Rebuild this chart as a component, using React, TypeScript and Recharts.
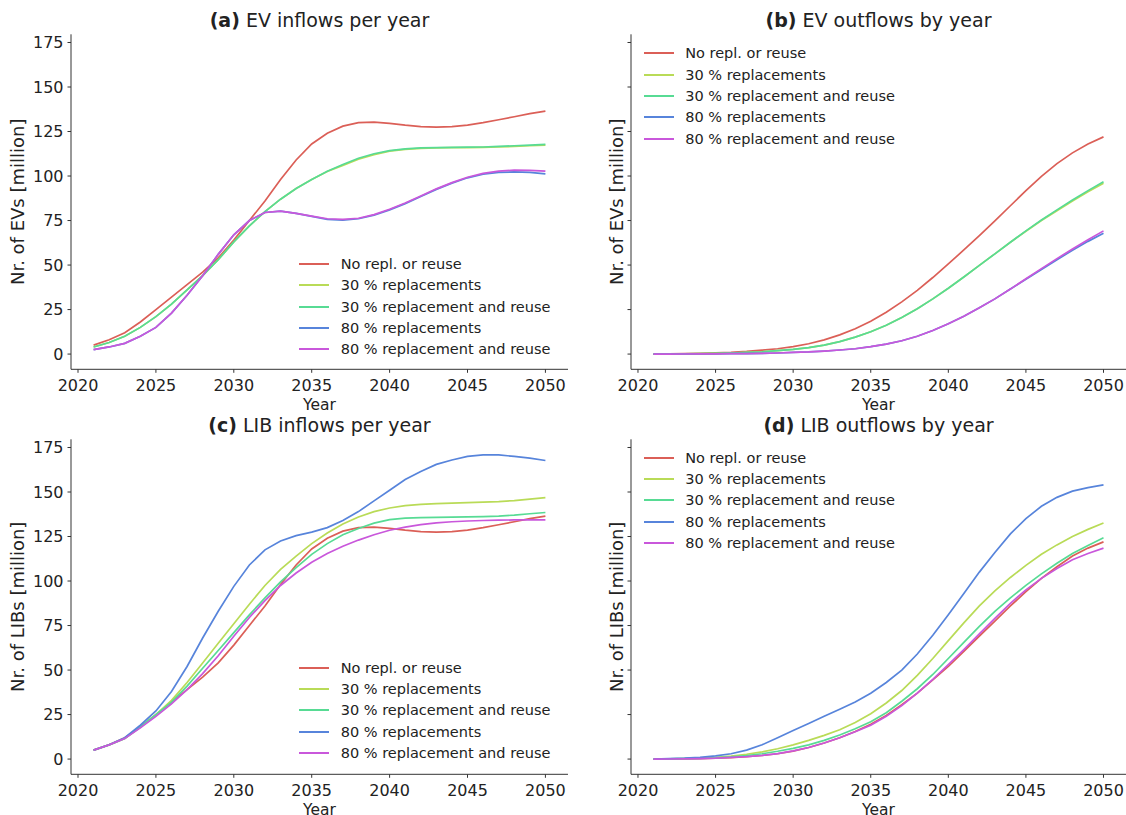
import { LineChart, Line, XAxis, YAxis, Legend, Label } from "recharts";

const years = [
  2021, 2022, 2023, 2024, 2025, 2026, 2027, 2028, 2029, 2030,
  2031, 2032, 2033, 2034, 2035, 2036, 2037, 2038, 2039, 2040,
  2041, 2042, 2043, 2044, 2045, 2046, 2047, 2048, 2049, 2050,
];

const seriesNames = [
  "No repl. or reuse",
  "30 % replacements",
  "30 % replacement and reuse",
  "80 % replacements",
  "80 % replacement and reuse",
];
const seriesColors = ["#db5f57", "#b9db57", "#57db94", "#5784db", "#c957db"];

const xTicks = [2020, 2025, 2030, 2035, 2040, 2045, 2050];
const yTicks = [0, 25, 50, 75, 100, 125, 150, 175];

// (a) EV inflows per year
const evInNo = [5, 8, 12, 18, 25, 32, 39, 46, 54, 64, 75, 86, 98, 109, 118, 124, 128, 130, 130.3, 129.6, 128.6, 127.8, 127.5, 127.8, 128.6, 130, 131.6, 133.3, 135, 136.5];
const evIn30 = [4, 6.5, 10, 15, 21, 28, 36, 44, 53, 63, 72, 80, 87, 93, 98, 102.5, 106, 109.5, 112, 114, 115, 115.5, 115.8, 116, 116, 116.1, 116.3, 116.6, 117, 117.3];
const evIn30r = [4, 6.5, 10, 15, 21, 28, 36, 44, 53, 63, 72, 80, 87, 93, 98, 102.7, 106.5, 110, 112.5, 114.3, 115.3, 115.8, 116, 116.1, 116.2, 116.3, 116.6, 117, 117.4, 117.8];
const evIn80 = [2.5, 4, 6, 10, 15, 23, 33, 44, 56, 67, 75, 79.5, 80.3, 79, 77.3, 75.7, 75.2, 76, 78, 81, 84.5, 88.5, 92.5, 96, 99, 101, 102, 102.3, 102, 101.2];
const evIn80r = [2.5, 4, 6, 10, 15, 23, 33, 44, 56, 67, 75, 79.5, 80.3, 79, 77.5, 76, 75.6, 76.3, 78.3, 81.3, 84.8, 88.8, 92.8, 96.3, 99.3, 101.5, 102.8, 103.3, 103.2, 102.7];

// (b) EV outflows by year
const evOutNo = [0, 0.1, 0.2, 0.4, 0.7, 1, 1.5, 2.2, 3, 4.2, 5.8, 8, 10.8, 14.2, 18.4, 23.5, 29.3, 35.8, 43, 50.6, 58.5, 66.5, 74.8, 83.3, 91.8, 99.8, 107, 113, 118, 122];
const evOut30 = [0, 0.05, 0.1, 0.2, 0.35, 0.6, 0.9, 1.3, 1.9, 2.6, 3.6, 5, 7, 9.5, 12.5, 16.2, 20.5, 25.5, 31, 37, 43.3, 49.8, 56.3, 62.8, 69, 75, 80.5, 86, 91.2, 96];
const evOut30r = [0, 0.05, 0.1, 0.2, 0.35, 0.6, 0.9, 1.3, 1.9, 2.6, 3.6, 5, 7, 9.5, 12.5, 16.2, 20.5, 25.5, 31, 37, 43.3, 49.8, 56.3, 62.8, 69.2, 75.3, 81, 86.5, 91.8, 96.8];
const evOut80 = [0, 0, 0.05, 0.1, 0.15, 0.2, 0.3, 0.4, 0.6, 0.9, 1.2, 1.7, 2.3, 3, 4.2, 5.6, 7.5, 10, 13.2, 17, 21.3, 26, 31, 36.5, 42, 47.5, 53, 58.3, 63.3, 67.8];
const evOut80r = [0, 0, 0.05, 0.1, 0.15, 0.2, 0.3, 0.4, 0.6, 0.9, 1.2, 1.7, 2.3, 3, 4.2, 5.6, 7.5, 10, 13.2, 17, 21.3, 26, 31, 36.5, 42.3, 48, 53.6, 59, 64.2, 69.2];

// (c) LIB inflows per year
const libInNo = [5, 8, 12, 18, 25, 32, 39, 46, 54, 64, 75, 86, 98, 109, 118, 124, 128, 130, 130.3, 129.6, 128.6, 127.8, 127.5, 127.8, 128.6, 130, 131.6, 133.3, 135, 136.5];
const libIn30 = [5, 8, 11.5, 18, 25, 33, 43, 54, 65, 76, 87, 97.5, 106.5, 114, 121, 127, 132, 136, 139, 141, 142.3, 143, 143.5, 143.7, 144, 144.3, 144.6, 145.2, 146, 146.8];
const libIn30r = [5, 8, 11.5, 18, 25, 32, 41, 51, 61, 71, 81, 90.5, 99.5, 107.5, 115, 121, 126, 129.5, 132.5, 134.5, 135.3, 135.6, 135.8, 135.9, 136, 136.2, 136.5, 137, 137.8, 138.5];
const libIn80 = [5, 8, 12, 19, 27, 38, 52, 68, 83, 97, 109, 117.5, 122.5, 125.5, 127.5, 130, 134, 139, 145, 151, 157, 161.5, 165.5, 168, 170, 170.8, 170.8, 170, 169, 167.7];
const libIn80r = [5, 8, 11.5, 17.5, 24, 31, 39, 48, 58, 69, 79.5, 89, 97.5, 104.5, 110.5, 115.5, 119.5, 123, 126, 128.5, 130.3, 131.7, 132.7, 133.3, 133.7, 134, 134.2, 134.3, 134.3, 134.3];

// (d) LIB outflows by year
const libOutNo = [0, 0.05, 0.15, 0.3, 0.5, 0.8, 1.3, 2, 3, 4.5, 6.5, 9, 12, 15.5, 19.5, 24.5, 30.5, 37, 44.5, 52, 60.5, 69, 77.5, 86, 94, 101.5, 108, 114, 118.5, 122];
const libOut30 = [0, 0.1, 0.3, 0.6, 1, 1.7, 2.7, 4, 5.8, 8, 10.5, 13.3, 16.5, 20.5, 25.5, 31.5, 38.5, 47, 56.5, 66.5, 76.5, 86, 94.5, 102, 108.8, 115, 120.3, 125, 129, 132.6];
const libOut30r = [0, 0.1, 0.2, 0.4, 0.7, 1.2, 2, 3, 4.4, 6, 8, 10.5, 13.5, 17, 21, 26, 32.5, 39.5, 47.5, 56.5, 65.5, 74.5, 83, 90.5, 97.6, 104, 110, 115.5, 120, 124.3];
const libOut80 = [0, 0.2, 0.5, 1, 1.8, 3, 5, 8, 12, 16, 20, 24, 28, 32, 37, 43, 50, 59, 69.5, 81, 93, 105, 116, 126.5, 135, 142, 147, 150.5, 152.5, 154];
const libOut80r = [0, 0.05, 0.15, 0.3, 0.5, 0.9, 1.4, 2.1, 3.1, 4.6, 6.5, 9, 12, 15.3, 19, 24, 30, 37, 44.8, 53, 61.5, 70.3, 79, 87.5, 95, 101.5, 107, 112, 115.5, 118.5];

const FONT = "'DejaVu Sans', 'Liberation Sans', sans-serif";
const INK = "#222";
const AXIS = "#333";

function buildRows(series: number[][]) {
  return years.map((year, i) => {
    const row: Record<string, number> = { year };
    series.forEach((s, k) => {
      row["s" + k] = s[i];
    });
    return row;
  });
}

function LegendBox() {
  return (
    <div style={{ fontFamily: FONT, fontSize: 14.5, color: INK }}>
      {seriesNames.map((name, k) => (
        <div key={name} style={{ display: "flex", alignItems: "center", height: 21.3, whiteSpace: "nowrap" }}>
          <div style={{ width: 30, height: 2, background: seriesColors[k], marginRight: 11.7, flexShrink: 0 }} />
          <span>{name}</span>
        </div>
      ))}
    </div>
  );
}

type PanelProps = {
  tag: string;
  title: string;
  ylabel: string;
  series: number[][];
  left: number;
  top: number;
  width: number;
  height: number;
  plotLeft: number;
  plotWidth: number;
  ylabelGap: number;
  tickLabels: boolean;
  legendLeft: number;
  legendTop: number;
};

const PLOT_TOP = 34.3;
const PLOT_H = 335;
const X_AXIS_H = 30;
const Y_AXIS_W = 60;

function Panel(p: PanelProps) {
  const data = buildRows(p.series);
  const marginRight = p.width - p.plotLeft - p.plotWidth;
  return (
    <div style={{ position: "absolute", left: p.left, top: p.top, width: p.width, height: p.height }}>
      <div
        style={{
          position: "absolute",
          left: p.plotLeft,
          width: p.plotWidth,
          top: 27.5 - 16.1,
          textAlign: "center",
          fontSize: 19,
          lineHeight: "19px",
          color: INK,
          fontFamily: FONT,
          whiteSpace: "nowrap",
        }}
      >
        <b>{p.tag}</b> {p.title}
      </div>
      <LineChart
        width={p.width}
        height={p.height}
        data={data}
        margin={{
          top: PLOT_TOP,
          right: marginRight,
          left: p.plotLeft - Y_AXIS_W,
          bottom: p.height - PLOT_TOP - PLOT_H - X_AXIS_H,
        }}
        style={{ fontFamily: FONT }}
      >
        <XAxis
          dataKey="year"
          type="number"
          domain={[2019.55, 2051.45]}
          ticks={xTicks}
          allowDataOverflow
          height={X_AXIS_H}
          tickSize={3.5}
          tickMargin={6.5}
          axisLine={{ stroke: AXIS, strokeWidth: 1 }}
          tickLine={{ stroke: AXIS, strokeWidth: 1 }}
          tick={{ fontSize: 16, fill: INK, fontFamily: FONT }}
        >
          <Label
            content={({ viewBox }: any) => (
              <text
                x={viewBox.x + viewBox.width / 2}
                y={viewBox.y + 40.3}
                textAnchor="middle"
                fontSize={15.5}
                fill={INK}
                fontFamily={FONT}
              >
                Year
              </text>
            )}
          />
        </XAxis>
        <YAxis
          type="number"
          domain={[-8.55, 179.6]}
          ticks={yTicks}
          allowDataOverflow
          width={Y_AXIS_W}
          tickSize={3.5}
          tickMargin={4}
          tickFormatter={(v: number) => (p.tickLabels ? String(v) : "")}
          axisLine={{ stroke: AXIS, strokeWidth: 1 }}
          tickLine={{ stroke: AXIS, strokeWidth: 1 }}
          tick={{ fontSize: 16, fill: INK, fontFamily: FONT }}
        >
          <Label
            content={({ viewBox }: any) => {
              const tx = viewBox.x + viewBox.width - p.ylabelGap;
              const ty = viewBox.y + viewBox.height / 2;
              return (
                <text
                  x={tx}
                  y={ty}
                  transform={`rotate(-90, ${tx}, ${ty})`}
                  textAnchor="middle"
                  fontSize={18}
                  fill={INK}
                  fontFamily={FONT}
                >
                  {p.ylabel}
                </text>
              );
            }}
          />
        </YAxis>
        <Legend
          layout="vertical"
          align="center"
          verticalAlign="middle"
          content={() => <LegendBox />}
          wrapperStyle={{ left: p.legendLeft, top: p.legendTop, width: "auto", height: "auto" }}
        />
        {seriesNames.map((name, k) => (
          <Line
            key={name}
            type="linear"
            dataKey={"s" + k}
            name={name}
            stroke={seriesColors[k]}
            strokeWidth={1.7}
            dot={false}
            activeDot={false}
            isAnimationActive={false}
          />
        ))}
      </LineChart>
    </div>
  );
}

export default function App() {
  return (
    <div style={{ position: "absolute", left: 0, top: 0, width: 1126, height: 815, background: "#fff", overflow: "hidden", fontFamily: FONT }}>
      <Panel
        tag="(a)"
        title="EV inflows per year"
        ylabel="Nr. of EVs [million]"
        series={[evInNo, evIn30, evIn30r, evIn80, evIn80r]}
        left={0}
        top={0}
        width={570}
        height={414}
        plotLeft={71}
        plotWidth={497}
        ylabelGap={47}
        tickLabels
        legendLeft={299}
        legendTop={253.4}
      />
      <Panel
        tag="(b)"
        title="EV outflows by year"
        ylabel="Nr. of EVs [million]"
        series={[evOutNo, evOut30, evOut30r, evOut80, evOut80r]}
        left={570}
        top={0}
        width={556}
        height={414}
        plotLeft={61}
        plotWidth={495}
        ylabelGap={8}
        tickLabels={false}
        legendLeft={73.5}
        legendTop={42.7}
      />
      <Panel
        tag="(c)"
        title="LIB inflows per year"
        ylabel="Nr. of LIBs [million]"
        series={[libInNo, libIn30, libIn30r, libIn80, libIn80r]}
        left={0}
        top={404.7}
        width={570}
        height={410.3}
        plotLeft={71}
        plotWidth={497}
        ylabelGap={47}
        tickLabels
        legendLeft={299}
        legendTop={252.3}
      />
      <Panel
        tag="(d)"
        title="LIB outflows by year"
        ylabel="Nr. of LIBs [million]"
        series={[libOutNo, libOut30, libOut30r, libOut80, libOut80r]}
        left={570}
        top={404.7}
        width={556}
        height={410.3}
        plotLeft={61}
        plotWidth={495}
        ylabelGap={8}
        tickLabels={false}
        legendLeft={73.5}
        legendTop={42.3}
      />
    </div>
  );
}
